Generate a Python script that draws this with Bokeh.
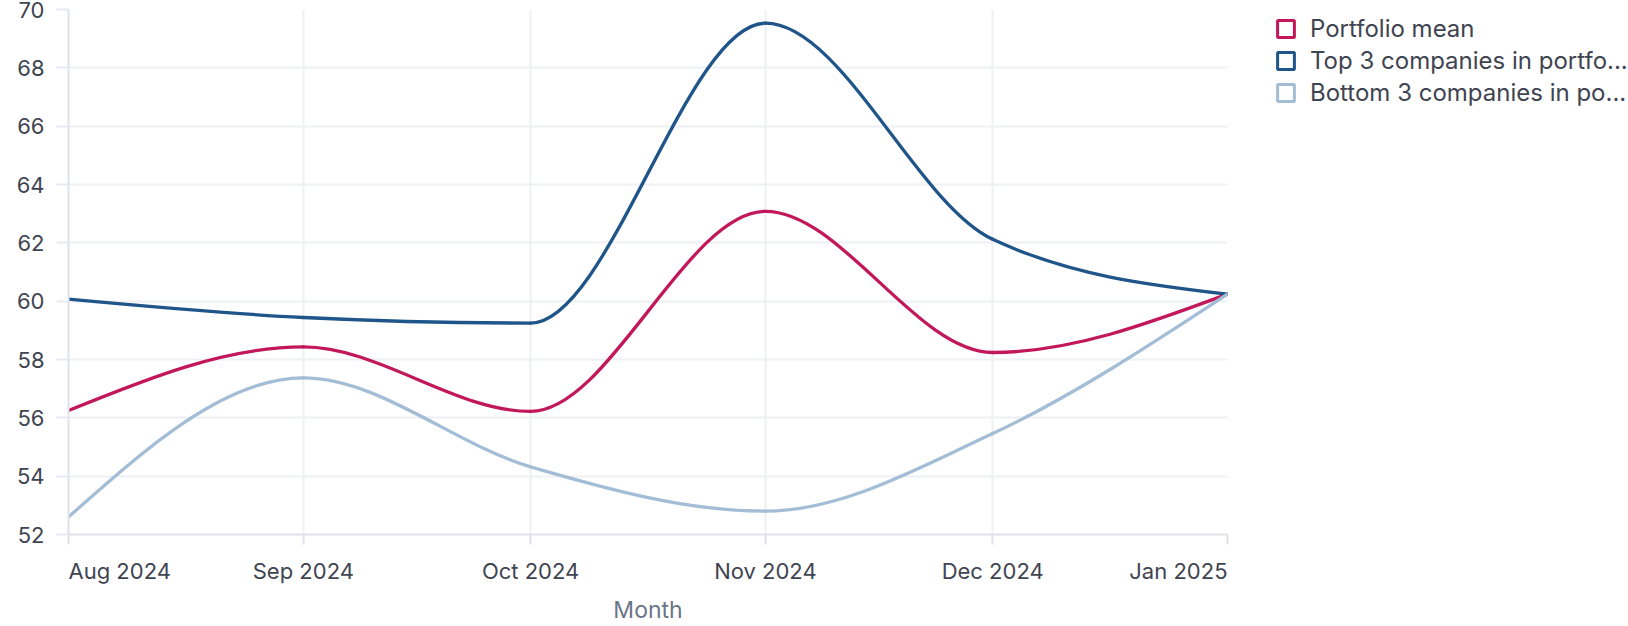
import numpy as np
from datetime import datetime, timezone
from bokeh.plotting import figure
from bokeh.layouts import column, row
from bokeh.models import Range1d, FixedTicker, Legend, LegendItem, Label
from bokeh.embed import file_html
from bokeh.resources import INLINE

# ---------------- data ----------------
months = ["2024-08-01", "2024-09-01", "2024-10-01", "2024-11-01", "2024-12-01", "2025-01-01"]
month_labels = ["Aug 2024", "Sep 2024", "Oct 2024", "Nov 2024", "Dec 2024", "Jan 2025"]
portfolio_mean = [56.25, 58.43, 56.22, 63.08, 58.24, 60.24]
top3 = [60.07, 59.44, 59.25, 69.53, 62.12, 60.24]
bottom3 = [52.60, 57.37, 54.32, 52.80, 55.46, 60.24]
series_names = ["Portfolio mean", "Top 3 companies in portfo...", "Bottom 3 companies in po..."]
series_colors = ["#c2185b", "#1f5589", "#a3bdd6"]
y_ticks = [52, 54, 56, 58, 60, 62, 64, 66, 68, 70]
x_title = "Month"

FONT = "Inter"
TEXT = "#3f4451"
AXIS = "#dfe2ea"


def to_ms(s):
    d = datetime.strptime(s, "%Y-%m-%d").replace(tzinfo=timezone.utc)
    return d.timestamp() * 1000.0


month_ms = [to_ms(m) for m in months]


def monotone_segments(xs, ys):
    """Cubic Bezier segments of a monotone-X curve through the points (d3 curveMonotoneX)."""
    xs = np.asarray(xs, float)
    ys = np.asarray(ys, float)
    n = len(xs)
    h = np.diff(xs)
    s = np.diff(ys) / h
    t = np.zeros(n)
    for i in range(1, n - 1):
        h0, h1 = h[i - 1], h[i]
        s0, s1 = s[i - 1], s[i]
        p_ = (s0 * h1 + s1 * h0) / (h0 + h1)
        t[i] = (np.sign(s0) + np.sign(s1)) * min(abs(s0), abs(s1), 0.5 * abs(p_))
    t[0] = (3 * s[0] - t[1]) / 2
    t[-1] = (3 * s[-1] - t[-2]) / 2
    dx = h / 3.0
    return dict(
        x0=xs[:-1], y0=ys[:-1], x1=xs[1:], y1=ys[1:],
        cx0=xs[:-1] + dx, cy0=ys[:-1] + dx * t[:-1],
        cx1=xs[1:] - dx, cy1=ys[1:] - dx * t[1:],
    )


x_range = Range1d(month_ms[0], month_ms[-1])

# ---------------- main plot ----------------
p = figure(
    width=1270, height=546,
    x_axis_type="datetime",
    x_range=x_range,
    y_range=Range1d(y_ticks[0], y_ticks[-1]),
    output_backend="svg", toolbar_location=None,
    min_border_left=68, min_border_right=43, min_border_top=9, min_border_bottom=12,
)
p.outline_line_color = None

p.xgrid.ticker = FixedTicker(ticks=month_ms)
p.ygrid.ticker = FixedTicker(ticks=y_ticks)
for g in (p.xgrid, p.ygrid):
    g.grid_line_color = "#eef0f4"
    g.grid_line_width = 2

xa = p.xaxis[0]
xa.ticker = FixedTicker(ticks=month_ms)
xa.axis_line_color = AXIS
xa.axis_line_width = 2
xa.major_tick_line_color = AXIS
xa.major_tick_line_width = 2
xa.major_tick_out = 10
xa.major_tick_in = 0
xa.minor_tick_line_color = None
xa.major_label_standoff = 0
xa.major_label_text_font_size = "0px"
xa.major_label_text_color = None   # tick labels are drawn below, aligned like the reference

ya = p.yaxis[0]
ya.ticker = FixedTicker(ticks=y_ticks)
ya.axis_line_color = AXIS
ya.axis_line_width = 2
ya.major_tick_line_color = "#e6e9ef"
ya.major_tick_line_width = 2
ya.major_tick_out = 12
ya.major_tick_in = 0
ya.minor_tick_line_color = None
ya.major_label_standoff = 12
ya.major_label_text_font = FONT
ya.major_label_text_font_size = "22px"
ya.major_label_text_color = TEXT

for vals, col in zip([portfolio_mean, top3, bottom3], series_colors):
    seg = monotone_segments(month_ms, vals)
    p.bezier(line_color=col, line_width=3.3, line_cap="round", **seg)

# ---------------- legend panel ----------------
lg = figure(
    width=358, height=546, x_range=Range1d(0, 1), y_range=Range1d(0, 1),
    x_axis_location=None, y_axis_location=None,
    output_backend="svg", toolbar_location=None,
    min_border_left=0, min_border_right=0, min_border_top=9, min_border_bottom=12,
)
lg.outline_line_color = None
lg.grid.visible = False
items = []
for name, col in zip(series_names, series_colors):
    r = lg.quad(left=[np.nan], right=[np.nan], top=[np.nan], bottom=[np.nan],
                fill_color="white", line_color=col, line_width=3)
    items.append(LegendItem(label=name, renderers=[r]))
legend = Legend(
    items=items, location="top_left",
    glyph_width=21, glyph_height=21, label_standoff=14, spacing=3,
    label_text_font=FONT, label_text_font_size="24px", label_text_color=TEXT,
    padding=0, margin=5,
    border_line_color=None, background_fill_alpha=0,
)
lg.add_layout(legend)

# ---------------- x tick labels + axis title ----------------
bt = figure(
    width=1628, height=80, x_range=x_range, y_range=Range1d(0, 1),
    x_axis_location=None, y_axis_location=None,
    output_backend="svg", toolbar_location=None,
    min_border_left=68, min_border_right=401, min_border_top=0, min_border_bottom=0,
)
bt.outline_line_color = None
bt.grid.visible = False
last = len(month_ms) - 1
for i, (m, lab) in enumerate(zip(month_ms, month_labels)):
    align = "left" if i == 0 else ("right" if i == last else "center")
    bt.add_layout(Label(
        x=m, y=56, x_units="data", y_units="screen",
        text=lab, text_align=align, text_baseline="alphabetic",
        text_font=FONT, text_font_size="22px", text_color=TEXT,
    ))
bt.add_layout(Label(
    x=(month_ms[0] + month_ms[-1]) / 2, y=17, x_units="data", y_units="screen",
    text=x_title, text_align="center", text_baseline="alphabetic",
    text_font=FONT, text_font_size="23px", text_color="#6b7588",
))

layout = column(row(p, lg), bt)
open("out.html", "w").write(file_html(layout, INLINE))
